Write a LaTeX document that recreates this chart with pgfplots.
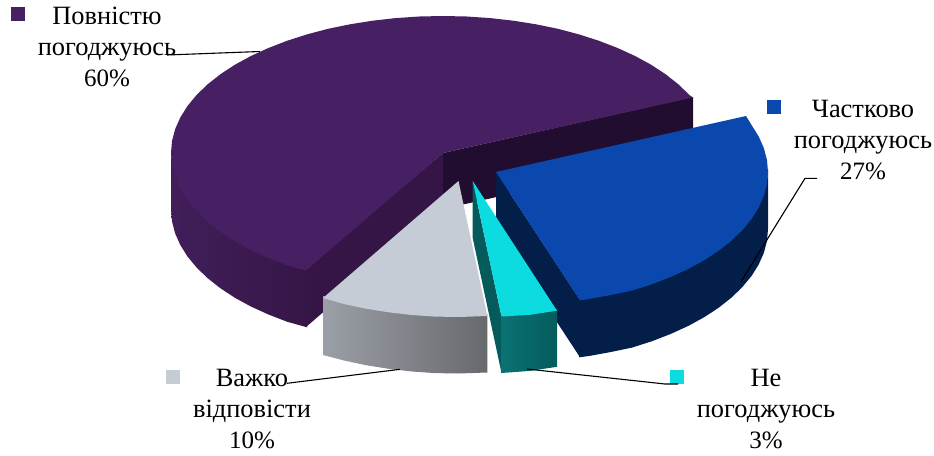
\documentclass[border=0pt]{standalone}
\usepackage{fontspec}
\setmainfont{Liberation Serif}
\usepackage{pgfplots}
\pgfplotsset{compat=1.18}
\definecolor{ptop}{HTML}{472063}
\definecolor{pback}{HTML}{200D30}
\definecolor{pinner}{HTML}{341545}
\definecolor{pwallL}{HTML}{411E59}
\definecolor{pwallR}{HTML}{361647}
\definecolor{btop}{HTML}{0A48AE}
\definecolor{bwall}{HTML}{031E49}
\definecolor{gtop}{HTML}{C5CCD5}
\definecolor{gwallL}{HTML}{9B9FA7}
\definecolor{gwallR}{HTML}{67696D}
\definecolor{ctop}{HTML}{0CDBE0}
\definecolor{cside}{HTML}{055A5C}
\definecolor{cwallL}{HTML}{0A7272}
\definecolor{cwallR}{HTML}{055C5C}
\newcommand{\pct}[1]{{\fontsize{25}{31}\selectfont #1}}
\tikzset{
  lbl/.style={font=\fontsize{26.4}{31}\selectfont,align=center,inner sep=0pt,text=black,anchor=center},
  leader/.style={black,line width=1.1pt},
}
\begin{document}
\begin{tikzpicture}
\begin{axis}[
  width=934pt,height=455pt,scale only axis,
  xmin=0,xmax=934,ymin=0,ymax=455,y dir=reverse,
  hide axis,clip=false,
]
% page frame (invisible)
\addplot[draw=none,fill=none] coordinates {(0,0)(934,0)(934,455)(0,455)} -- cycle;
\path (axis cs:0,0) rectangle (axis cs:934,455);
% purple slice
\addplot[draw=none,fill=pback] coordinates {(443,153)(693,97)(693,153)(443,209)} -- cycle;
\addplot[draw=none,left color=pwallL,right color=pwallR] coordinates {
 (171,150)(172,161.9)(175.1,173.8)(180.3,185.5)(187.4,196.9)(196.5,207.9)(207.4,218.5)(220.2,228.6)(234.6,238.1)(250.7,246.9)(268.2,254.9)(287,262.2)(307,267)
 (307,327.3)(287,321.7)(268.2,314.4)(250.7,306.4)(234.6,297.6)(220.2,288.1)(207.4,278)(196.5,267.4)(187.4,256.4)(180.3,245)(175.1,233.3)(172,221.4)(171,209.5)} -- cycle;
\addplot[draw=none,fill=pinner] coordinates {(443,153)(443,209)(306,327)(306,268)} -- cycle;
\addplot[draw=none,fill=ptop] coordinates {
 (443,153)(693,97.5)(689.5,95.1)(678.6,84.5)(665.8,74.4)(651.4,64.9)(635.3,56.1)(617.8,48.1)(599,40.8)(579,34.4)(557.9,28.8)(536,24.3)(513.4,20.7)(490.2,18.1)(466.7,16.5)(443,16)
 (419.3,16.5)(395.8,18.1)(372.6,20.7)(350,24.3)(328.1,28.8)(307,34.4)(287,40.8)(268.2,48.1)(250.7,56.1)(234.6,64.9)(220.2,74.4)(207.4,84.5)(196.5,95.1)(187.4,106.1)(180.3,117.5)(175.1,129.2)(172,141.1)(171,153)
 (172,164.9)(175.1,176.8)(180.3,188.5)(187.4,199.9)(196.5,210.9)(207.4,221.5)(220.2,231.6)(234.6,241.1)(250.7,249.9)(268.2,257.9)(287,265.2)(306,270.5)} -- cycle;
% blue slice
\addplot[draw=none,fill=bwall] coordinates {(496,172)(580,300)(580,357.3)(496,229)} -- cycle;
\addplot[draw=none,fill=bwall] coordinates {
 (768,169)(767,180.9)(763.9,192.8)(758.7,204.5)(751.6,215.9)(742.5,226.9)(731.6,237.5)(718.8,247.6)(704.4,257.1)(688.3,265.9)(670.8,273.9)(652,281.2)(632,287.6)(610.9,292)(589,296)(579,297.3)
 (579,357.3)(589,356)(610.9,352)(632,347.6)(652,341.2)(670.8,333.9)(688.3,325.9)(704.4,317.1)(718.8,307.6)(731.6,297.5)(742.5,286.9)(751.6,275.9)(758.7,264.5)(763.9,252.8)(767,240.9)(768,229)} -- cycle;
\addplot[draw=none,fill=btop] coordinates {
 (496,172)(746,116)(751.6,125.1)(758.7,136.5)(763.9,148.2)(767,160.1)(768,172)(767,183.9)(763.9,195.8)(758.7,207.5)(751.6,218.9)(742.5,229.9)(731.6,240.5)(718.8,250.6)(704.4,260.1)
 (688.3,268.9)(670.8,276.9)(652,284.2)(632,290.6)(610.9,295)(589,299)(580,300.3)} -- cycle;
% grey slice
\addplot[draw=none,left color=gwallL,right color=gwallR] coordinates {
 (323,296)(344,302)(366,306.7)(388.6,310.3)(411.8,313)(435,314.6)(459,315)(487.3,314)
 (487.3,372.5)(459,373.5)(435,373.1)(411.8,371.5)(388.6,368.8)(366,365.2)(344,360.5)(323,355)} -- cycle;
\addplot[draw=none,fill=gtop] coordinates {
 (458.5,181)(487.3,316)(459,317)(435,316.6)(411.8,315)(388.6,312.3)(366,308.7)(344,304)(323,298)} -- cycle;
% cyan slice
\addplot[draw=none,fill=cside] coordinates {(472.7,181)(501.5,316.5)(501.5,373)(472.7,238)} -- cycle;
\addplot[draw=none,left color=cwallL,right color=cwallR] coordinates {
 (501.5,314.5)(530,312.8)(557,308.7)(557,366.8)(530,370.9)(501.5,373)} -- cycle;
\addplot[draw=none,fill=ctop] coordinates {(472.7,181)(557,310.7)(530,314.8)(501.5,316.5)} -- cycle;
% legend keys
\addplot[draw=none,fill=ptop] coordinates {(11,7)(25,7)(25,21)(11,21)} -- cycle;
\addplot[draw=none,fill=btop] coordinates {(767,100)(781,100)(781,114)(767,114)} -- cycle;
\addplot[draw=none,fill=gtop] coordinates {(166,370)(180,370)(180,384)(166,384)} -- cycle;
\addplot[draw=none,fill=ctop] coordinates {(670,370)(684,370)(684,384)(670,384)} -- cycle;
% labels
\node[lbl] at (axis cs:107,47) {Повністю\\погоджуюсь\\\pct{60\%}};
\node[lbl] at (axis cs:863,140) {Частково\\погоджуюсь\\\pct{27\%}};
\node[lbl] at (axis cs:252,409) {Важко\\відповісти\\\pct{10\%}};
\node[lbl] at (axis cs:766,409) {Не\\погоджуюсь\\\pct{3\%}};
% leader lines
\addplot[leader] coordinates {(167,55)(260,51.5)};
\addplot[leader] coordinates {(817,178.3)(805,178.3)(741,281.7)};
\addplot[leader] coordinates {(400,369.3)(287,383.3)};
\addplot[leader] coordinates {(527,369)(665,384)(678,384)};
\end{axis}
\end{tikzpicture}
\end{document}
